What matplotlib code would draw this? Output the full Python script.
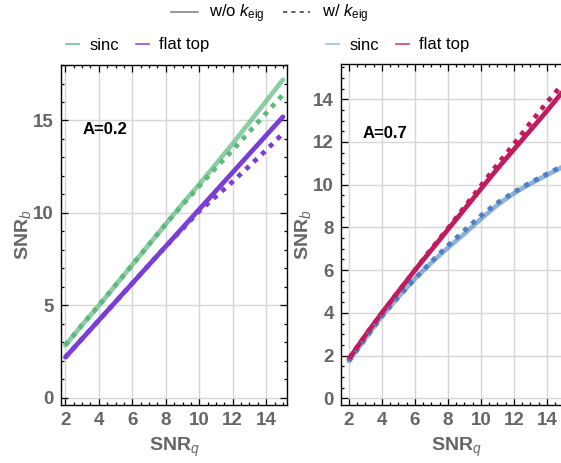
import matplotlib
matplotlib.use("agg")
import matplotlib.pyplot as plt
from matplotlib.lines import Line2D
from matplotlib.ticker import MultipleLocator

plt.rcParams['font.family'] = ['Liberation Sans', 'DejaVu Sans']
plt.rcParams['mathtext.fontset'] = 'custom'
plt.rcParams['mathtext.rm'] = 'Liberation Sans'
plt.rcParams['mathtext.it'] = 'Liberation Sans:italic'
plt.rcParams['mathtext.bf'] = 'Liberation Sans:bold'

snr_q = [2, 3, 4, 5, 6, 7, 8, 9, 10, 11, 12, 13, 14, 15]

# A=0.2
sinc_02 = [2.85, 3.95, 5.0, 6.1, 7.2, 8.3, 9.4, 10.5, 11.55, 12.65, 13.75, 14.9, 16.05, 17.2]
sinc_02_k = [2.85, 3.95, 5.0, 6.1, 7.2, 8.3, 9.4, 10.45, 11.45, 12.45, 13.4, 14.4, 15.4, 16.4]
flat_02 = [2.2, 3.2, 4.2, 5.2, 6.2, 7.2, 8.2, 9.2, 10.2, 11.2, 12.2, 13.2, 14.2, 15.2]
flat_02_k = [2.2, 3.2, 4.2, 5.2, 6.2, 7.2, 8.2, 9.15, 10.1, 10.9, 11.7, 12.55, 13.4, 14.3]

# A=0.7
sinc_07 = [1.75, 2.8, 3.85, 4.75, 5.6, 6.35, 7.05, 7.7, 8.4, 9.05, 9.6, 10.05, 10.45, 10.85]
sinc_07_k = [1.75, 2.8, 3.85, 4.75, 5.6, 6.4, 7.15, 7.85, 8.55, 9.15, 9.65, 10.1, 10.5, 10.9]
flat_07 = [1.85, 2.95, 4.0, 5.0, 6.0, 6.95, 7.9, 8.85, 9.8, 10.75, 11.65, 12.55, 13.45, 14.4]
flat_07_k = [1.85, 2.95, 4.0, 5.0, 6.0, 7.0, 7.95, 8.95, 9.95, 10.95, 11.9, 12.9, 13.85, 14.75]

green = "#5cb97c"
purple = "#7a3dd6"
blue = "#4a7fc4"
red = "#c21a5e"
tick_grey = "#666666"

fig = plt.figure(figsize=(5.61, 4.63), dpi=100)
ax1 = fig.add_axes([0.1082, 0.1253, 0.4039, 0.7343])
ax2 = fig.add_axes([0.6078, 0.1253, 0.4112, 0.7365])

dots = (0, (1, 1.3))


def draw(ax, y, yk, col, alpha_solid):
    ax.plot(snr_q, y, color=col, lw=3.4, alpha=alpha_solid, solid_capstyle='round', zorder=3)
    ax.plot(snr_q, yk, color=col, lw=3.4, ls=dots, dash_capstyle='butt', zorder=4)


draw(ax1, sinc_02, sinc_02_k, green, 0.7)
draw(ax1, flat_02, flat_02_k, purple, 1.0)
draw(ax2, sinc_07, sinc_07_k, blue, 0.6)
draw(ax2, flat_07, flat_07_k, red, 1.0)

ax1.set_xlim(1.72, 15.26)
ax1.set_ylim(-0.38, 18.0)
ax2.set_xlim(1.52, 15.5)
ax2.set_ylim(-0.31, 15.65)

ax1.yaxis.set_major_locator(MultipleLocator(5))
ax1.yaxis.set_minor_locator(MultipleLocator(1))
ax2.yaxis.set_major_locator(MultipleLocator(2))
ax2.yaxis.set_minor_locator(MultipleLocator(0.5))

for ax in (ax1, ax2):
    ax.xaxis.set_major_locator(MultipleLocator(2))
    ax.xaxis.set_minor_locator(MultipleLocator(0.5))
    ax.grid(True, which='major', color='#d6d6d6', lw=1.0, zorder=0)
    ax.tick_params(which='both', direction='in', top=True, right=True, color='black', width=0.9)
    ax.tick_params(which='major', length=5, labelsize=13.5, labelcolor=tick_grey, pad=5)
    ax.tick_params(which='minor', length=2.5)
    for lab in ax.get_xticklabels() + ax.get_yticklabels():
        lab.set_fontweight('bold')
    for sp in ax.spines.values():
        sp.set_color('black')
        sp.set_linewidth(1.0)
    ax.set_xlabel(r'SNR$_{\mathit{q}}$', fontsize=14, fontweight='bold', color=tick_grey, labelpad=5)
    ax.set_ylabel(r'SNR$_{\mathit{b}}$', fontsize=14, fontweight='bold', color=tick_grey, labelpad=0)

ax1.text(3.0, 14.5, 'A=0.2', fontsize=12, fontweight='bold', va='center')
ax2.text(2.83, 12.4, 'A=0.7', fontsize=12, fontweight='bold', va='center')

# panel legends
leg_kw = dict(frameon=False, ncol=2, fontsize=12, handlelength=0.8, handletextpad=0.6,
              columnspacing=1.0, borderpad=0, borderaxespad=0, loc='center left')
ax1.legend([Line2D([], [], color='#6cc08a', lw=1.2), Line2D([], [], color='#8a50dc', lw=1.2)],
           ['sinc', 'flat top'], bbox_to_anchor=(66 / 561, 1 - 45 / 463),
           bbox_transform=fig.transFigure, **leg_kw)
ax2.legend([Line2D([], [], color='#a3c0e6', lw=1.2), Line2D([], [], color='#d23f73', lw=1.2)],
           ['sinc', 'flat top'], bbox_to_anchor=(326 / 561, 1 - 45 / 463),
           bbox_transform=fig.transFigure, **leg_kw)

# line style legend
fig.legend([Line2D([], [], color='#888888', lw=1.2),
            Line2D([], [], color='#444444', lw=1.2, ls=(0, (2.5, 2.5)))],
           [r'w/o $k_{\mathrm{eig}}$', r'w/ $k_{\mathrm{eig}}$'],
           loc='center left', bbox_to_anchor=(171 / 561, 1 - 14 / 463), frameon=False, ncol=2,
           fontsize=12, handlelength=1.6, handletextpad=0.7, columnspacing=1.1, borderpad=0,
           borderaxespad=0)

fig.savefig("out.png", dpi=100)
